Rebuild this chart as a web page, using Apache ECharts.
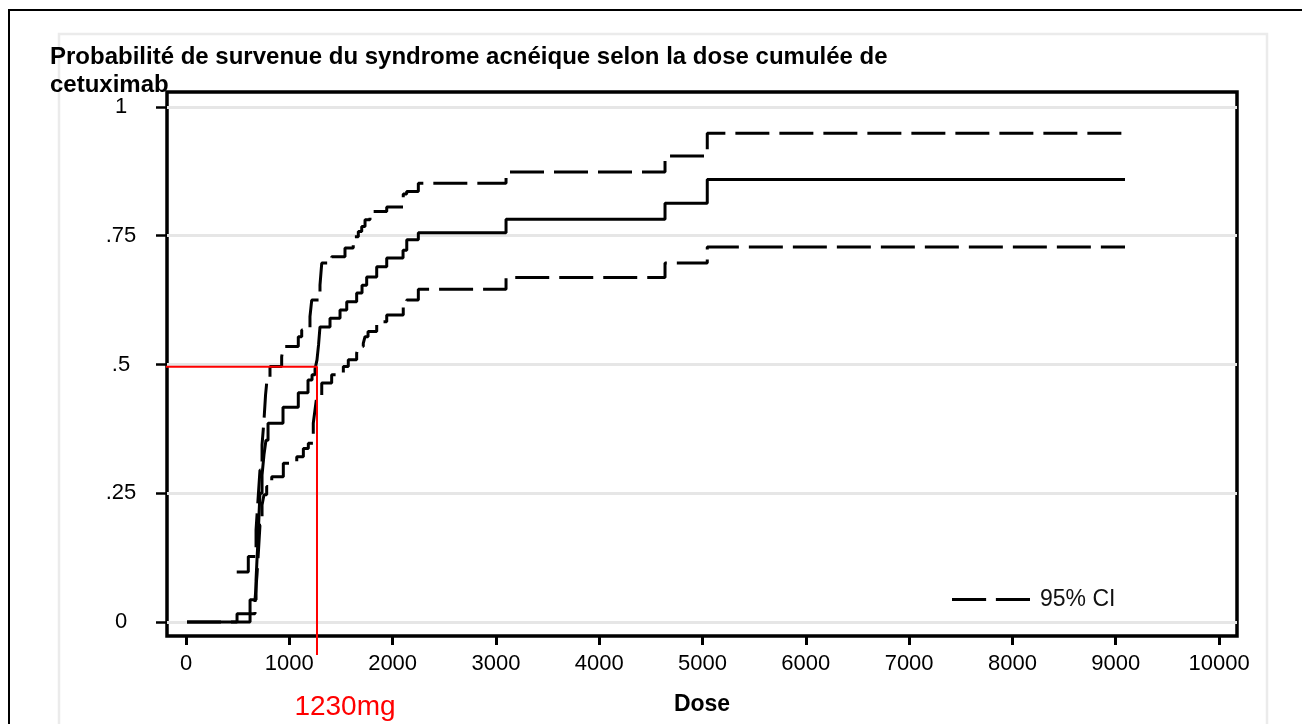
<!DOCTYPE html>
<html>
<head>
<meta charset="utf-8">
<script src="https://cdn.jsdelivr.net/npm/echarts@6/dist/echarts.min.js"></script>
<style>
html,body{margin:0;padding:0;background:#fff;}
#chart{width:1302px;height:724px;}
</style>
</head>
<body>
<div id="chart"></div>
<script>
// Cumulative incidence estimate (solid)
const estDose = [10, 494, 620, 678, 687, 697, 707, 716, 736, 755, 774, 794, 939, 1087, 1181, 1220, 1249, 1268, 1283, 1297, 1394, 1491, 1556, 1652, 1704, 1749, 1846, 1943, 2101, 2137, 2249, 3098, 4637, 5046, 9090];
const estProb = [0, 0.016, 0.043, 0.082, 0.12, 0.16, 0.21, 0.25, 0.285, 0.325, 0.353, 0.386, 0.417, 0.445, 0.47, 0.48, 0.491, 0.509, 0.538, 0.573, 0.59, 0.606, 0.622, 0.639, 0.654, 0.67, 0.69, 0.707, 0.722, 0.742, 0.756, 0.782, 0.813, 0.859, 0.859];
// Upper 95% CI
const upDose = [491, 603, 678, 697, 716, 736, 755, 770, 784, 813, 926, 942, 1087, 1120, 1200, 1217, 1297, 1314, 1410, 1539, 1619, 1668, 1701, 1733, 1781, 1943, 2103, 2136, 2249, 3098, 4637, 5046, 9090];
const upProb = [0.097, 0.127, 0.179, 0.237, 0.295, 0.344, 0.392, 0.441, 0.47, 0.496, 0.515, 0.535, 0.554, 0.567, 0.593, 0.625, 0.654, 0.697, 0.709, 0.726, 0.748, 0.758, 0.768, 0.781, 0.797, 0.806, 0.831, 0.836, 0.852, 0.874, 0.905, 0.949, 0.949];
// Lower 95% CI
const loDose = [10, 620, 668, 687, 702, 716, 736, 755, 781, 830, 942, 1072, 1136, 1184, 1232, 1249, 1265, 1314, 1410, 1523, 1571, 1652, 1668, 1716, 1733, 1762, 1846, 1910, 1943, 2103, 2136, 2249, 3098, 4637, 5046, 9090];
const loProb = [0, 0.016, 0.043, 0.091, 0.14, 0.188, 0.227, 0.247, 0.263, 0.282, 0.308, 0.321, 0.337, 0.347, 0.386, 0.412, 0.437, 0.464, 0.48, 0.496, 0.509, 0.522, 0.535, 0.541, 0.554, 0.564, 0.577, 0.583, 0.596, 0.619, 0.625, 0.646, 0.669, 0.697, 0.728, 0.728];
// Red median annotation (1230mg)
const refDose = [-300, 1268, 1268];
const refProb = [0.4957, 0.4957, -0.064];
const refLabel = '1230mg';
// Axis ticks
const xTicks = [0, 1000, 2000, 3000, 4000, 5000, 6000, 7000, 8000, 9000, 10000];
const yTicks = [0, 0.25, 0.5, 0.75, 1];
const yTickLabels = ['0', '.25', '.5', '.75', '1'];
const titleText = 'Probabilité de survenue du syndrome acnéique selon la dose cumulée de\ncetuximab';
const xName = 'Dose';
const ciName = '95% CI';

const zip = (a, b) => a.map((v, i) => [v, b[i]]);
const FONT = "'Liberation Sans', Arial, Helvetica, sans-serif";

const chart = echarts.init(document.getElementById('chart'), null, {renderer: 'canvas'});
chart.setOption({
  animation: false,
  backgroundColor: '#fff',
  title: {
    text: titleText,
    left: 50, top: 43, padding: 0,
    textStyle: {fontFamily: FONT, fontSize: 24, fontWeight: 'bold', color: '#000', lineHeight: 28}
  },
  legend: {
    data: [{name: ciName, icon: 'path://M0,0H35V3H0Z M45,0H80V3H45Z'}],
    left: 947, top: 583,
    itemWidth: 78, itemHeight: 3,
    textStyle: {fontFamily: FONT, fontSize: 23, color: '#111', padding: [0, 0, 0, 5]}
  },
  grid: {
    left: 167, right: 65, top: 92, bottom: 88,
    show: true, borderColor: '#000', borderWidth: 3.5, backgroundColor: 'transparent',
    containLabel: false
  },
  xAxis: {
    type: 'value', min: -184, max: 10174,
    name: xName, nameLocation: 'middle', nameGap: 57,
    nameTextStyle: {fontFamily: FONT, fontSize: 23, fontWeight: 'bold', color: '#000'},
    axisLine: {show: false, onZero: false},
    axisTick: {show: true, length: 9, lineStyle: {color: '#000', width: 3}, customValues: xTicks},
    axisLabel: {fontFamily: FONT, fontSize: 22, color: '#000', margin: 17, customValues: xTicks, formatter: v => String(Math.round(v))},
    splitLine: {show: false}
  },
  yAxis: {
    type: 'value', min: -0.0272, max: 1.0291,
    axisLine: {show: false, onZero: false},
    axisTick: {show: true, length: 11, lineStyle: {color: '#000', width: 2.5}, customValues: yTicks},
    axisLabel: {
      fontFamily: FONT, fontSize: 22, color: '#000', margin: 46, align: 'center',
      customValues: yTicks,
      formatter: v => { const i = yTicks.findIndex(t => Math.abs(t - v) < 1e-6); return i >= 0 ? yTickLabels[i] : ''; }
    },
    splitLine: {show: true, lineStyle: {color: '#e6e6e6', width: 3}}
  },
  series: [
    {
      name: 'Estimate', type: 'line', step: 'end', showSymbol: false, symbol: 'none',
      data: zip(estDose, estProb),
      lineStyle: {color: '#000', width: 3, type: 'solid'}, z: 3
    },
    {
      name: ciName, type: 'line', step: 'end', showSymbol: false, symbol: 'none',
      data: zip(upDose, upProb),
      itemStyle: {color: '#000'},
      lineStyle: {color: '#000', width: 3, type: [34, 10]}, z: 3
    },
    {
      name: ciName, type: 'line', step: 'end', showSymbol: false, symbol: 'none',
      data: zip(loDose, loProb),
      itemStyle: {color: '#000'},
      lineStyle: {color: '#000', width: 3, type: [34, 10]}, z: 3
    },
    {
      name: 'ref', type: 'line', showSymbol: false, symbol: 'none', clip: false,
      data: zip(refDose, refProb),
      lineStyle: {color: '#ff0000', width: 2}, z: 4, silent: true
    }
  ],
  graphic: [
    {type: 'rect', silent: true, z: -1, shape: {x: 9, y: 10, width: 1300, height: 720}, style: {fill: 'none', stroke: '#000', lineWidth: 2}},
    {type: 'rect', silent: true, z: -1, shape: {x: 59, y: 34, width: 1208, height: 720}, style: {fill: 'none', stroke: '#ebebeb', lineWidth: 2.5}},
    {type: 'text', silent: true, style: {text: refLabel, x: 345, y: 707, align: 'center', verticalAlign: 'middle', font: "28px 'Liberation Sans', Arial, sans-serif", fill: '#ff0000'}}
  ]
});
</script>
</body>
</html>
